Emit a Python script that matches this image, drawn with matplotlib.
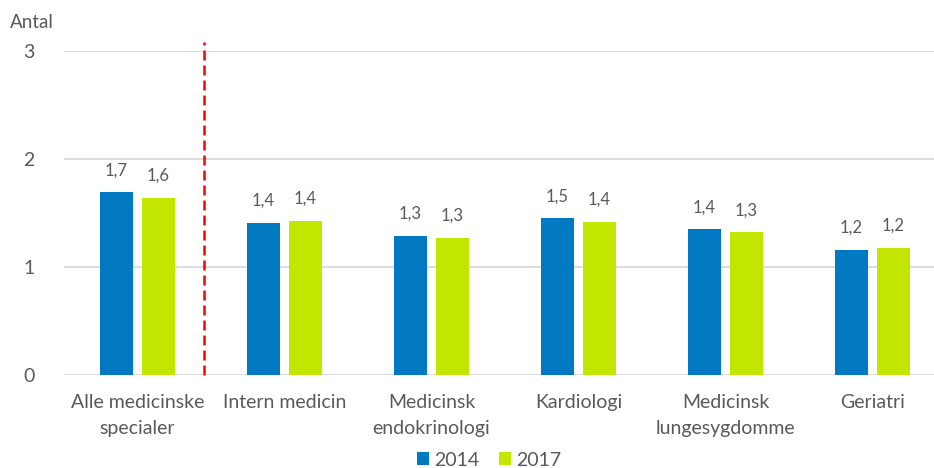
import matplotlib
matplotlib.use("Agg")
import matplotlib.pyplot as plt
import numpy as np

plt.rcParams['font.family'] = ['Lato', 'DejaVu Sans']

categories = ["Alle medicinske\nspecialer", "Intern medicin", "Medicinsk\nendokrinologi",
              "Kardiologi", "Medicinsk\nlungesygdomme", "Geriatri"]
values_2014 = [1.69, 1.41, 1.29, 1.45, 1.35, 1.16]
values_2017 = [1.64, 1.43, 1.27, 1.42, 1.32, 1.18]
series_labels = ["2014", "2017"]
y_ticks = [0, 1, 2, 3]

blue = "#0079C2"
green = "#C2E600"
text_color = "#595959"

fig = plt.figure(figsize=(9.34, 4.68), dpi=100)
ax = fig.add_axes([64 / 934, 1 - 375 / 468, 882 / 934, 324 / 468])

x = np.arange(len(categories))
bw = 0.224
off = 0.143
b1 = ax.bar(x - off, values_2014, bw, color=blue, label=series_labels[0], zorder=3)
b2 = ax.bar(x + off, values_2017, bw, color=green, label=series_labels[1], zorder=3)


def fmt(v):
    return f"{v + 1e-9:.1f}".replace(".", ",")


for bars, vals in ((b1, values_2014), (b2, values_2017)):
    for rect, v in zip(bars, vals):
        ax.annotate(fmt(v), (rect.get_x() + rect.get_width() / 2, v),
                    xytext=(0, 10), textcoords="offset points",
                    ha="center", va="bottom", fontsize=12, color=text_color)

ax.set_xlim(-0.5, len(categories) - 0.5)
ax.set_ylim(0, 3)
ax.set_yticks(y_ticks)
ax.set_yticklabels([str(t) for t in y_ticks], fontsize=14, color=text_color)
ax.set_xticks(x)
ax.set_xticklabels(categories, fontsize=14, color=text_color, linespacing=1.6)
ax.tick_params(axis="both", length=0)
ax.tick_params(axis="x", pad=14)
ax.tick_params(axis="y", pad=21)

ax.grid(axis="y", color="#D9D9D9", linewidth=1.3, zorder=0)
for s in ax.spines.values():
    s.set_visible(False)

# separator between the overall figure and the individual specialties
ax.plot([0.452, 0.452], [0, 3.08], color="#FF0000", linewidth=1.8,
        linestyle=(0, (4, 2)), clip_on=False, zorder=4)

fig.text(10 / 934, 1 - 22 / 468, "Antal", fontsize=13.5, color=text_color,
         ha="left", va="center")

fig.legend(handles=[b1, b2], labels=series_labels, loc="center",
           bbox_to_anchor=(489 / 934, 1 - 460 / 468), ncol=2, frameon=False,
           fontsize=14, handlelength=0.65, handleheight=0.65, handletextpad=0.25,
           columnspacing=1.0, labelcolor=text_color, borderpad=0.2)

fig.savefig("out.png", dpi=100)
